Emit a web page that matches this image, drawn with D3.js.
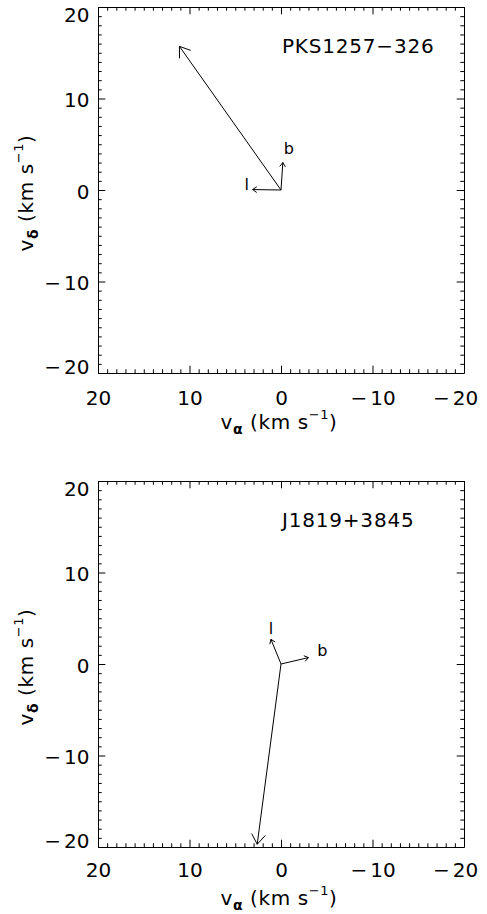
<!DOCTYPE html>
<html>
<head>
<meta charset="utf-8">
<script src="https://cdn.jsdelivr.net/npm/d3@7"></script>
<style>
  html, body { margin: 0; padding: 0; background: #fff; }
  svg { display: block; }
</style>
</head>
<body>
<script>
// ---------------- data ----------------
const panelNames = ["PKS1257\u2212326", "J1819+3845"];
// proper-motion velocity vectors (v_alpha, v_delta) in km/s
const pmVectors = [[11.1, 15.7], [2.6, -19.7]];
// galactic l and b directions (drawn as short vectors)
const lVectors = [[3.1, 0.05], [1.1, 2.7]];
const bVectors = [[-0.2, 3.0], [-3.0, 0.7]];
const lLabels = ["l", "l"];
const bLabels = ["b", "b"];
const majorTicks = [20, 10, 0, -10, -20];
const axisDomain = [20, -20];

// ---------------- layout ----------------
const W = 487, H = 914;
const left = 98, right = 464;
const panels = [
  { top: 7,   bottom: 373, tickBase: 405, titleBase: 429, yTitleY: 193,
    lOff: [-6, 0], bOff: [6, -9] },
  { top: 481, bottom: 847, tickBase: 877, titleBase: 905, yTitleY: 667,
    lOff: [0, -5], bOff: [14, -2] }
];
const FONT = "DejaVu Sans";
const majorLen = 7.3, minorLen = 3.7;
const minorTicks = d3.range(-20, 21, 1).filter(v => v % 10 !== 0);

const svg = d3.select("body").append("svg")
  .attr("width", W).attr("height", H)
  .style("font-family", FONT);

function fmt(v) { return v < 0 ? "\u2212" + Math.abs(v) : String(v); }

function splitMinus(sel) {
  sel.each(function () {
    const t = d3.select(this);
    const s = t.text();
    if (s.startsWith("\u2212")) {
      t.text(null);
      t.append("tspan").text("\u2212");
      t.append("tspan").attr("dx", 3).text(s.slice(1));
    }
  });
}

function drawArrow(g, x0, y0, x1, y1, head, ang) {
  const a = Math.atan2(y0 - y1, x0 - x1);
  const h1 = [x1 + head * Math.cos(a + ang), y1 + head * Math.sin(a + ang)];
  const h2 = [x1 + head * Math.cos(a - ang), y1 + head * Math.sin(a - ang)];
  const p = d3.path();
  p.moveTo(x0, y0); p.lineTo(x1, y1);
  p.moveTo(h1[0], h1[1]); p.lineTo(x1, y1); p.lineTo(h2[0], h2[1]);
  g.append("path").attr("d", p.toString())
    .attr("fill", "none").attr("stroke", "#000").attr("stroke-width", 1)
    .attr("stroke-linejoin", "miter");
}

panels.forEach((P, i) => {
  const x = d3.scaleLinear().domain(axisDomain).range([left, right]);
  const y = d3.scaleLinear().domain([-20, 20]).range([P.bottom, P.top]);
  const g = svg.append("g");

  // ---- minor ticks
  [["axisBottom", P.bottom, x, 0], ["axisTop", P.top, x, 0],
   ["axisLeft", left, y, 1], ["axisRight", right, y, 1]].forEach(([fn, pos, sc, vert]) => {
    const ax = d3[fn](sc).tickValues(minorTicks).tickFormat("")
      .tickSizeInner(-minorLen).tickSizeOuter(0);
    const gg = g.append("g")
      .attr("transform", vert ? `translate(${pos},0)` : `translate(0,${pos})`)
      .call(ax);
    gg.select(".domain").remove();
  });

  // ---- major ticks + frame
  const xb = g.append("g").attr("transform", `translate(0,${P.bottom})`)
    .call(d3.axisBottom(x).tickValues(majorTicks).tickFormat(fmt)
      .tickSizeInner(-majorLen).tickSizeOuter(0).tickPadding(0));
  g.append("g").attr("transform", `translate(0,${P.top})`)
    .call(d3.axisTop(x).tickValues(majorTicks).tickFormat("")
      .tickSizeInner(-majorLen).tickSizeOuter(0));
  const yl = g.append("g").attr("transform", `translate(${left},0)`)
    .call(d3.axisLeft(y).tickValues(majorTicks).tickFormat(fmt)
      .tickSizeInner(-majorLen).tickSizeOuter(0).tickPadding(8.5));
  g.append("g").attr("transform", `translate(${right},0)`)
    .call(d3.axisRight(y).tickValues(majorTicks).tickFormat("")
      .tickSizeInner(-majorLen).tickSizeOuter(0));

  g.selectAll(".domain").attr("stroke", "#000").attr("stroke-width", 1);
  g.selectAll(".tick line").attr("stroke", "#000").attr("stroke-width", 1);

  // x tick labels
  xb.selectAll("text")
    .attr("font-family", FONT).attr("font-size", 20).attr("fill", "#000")
    .attr("y", P.tickBase - P.bottom).attr("dy", 0)
    .attr("dx", d => (d === -20 ? -9 : 0));
  splitMinus(xb.selectAll("text"));
  xb.attr("font-family", FONT).attr("font-size", 20);

  // y tick labels
  yl.selectAll("text")
    .attr("font-family", FONT).attr("font-size", 20).attr("fill", "#000")
    .attr("dy", "0.36em")
    .attr("y", d => d === 20 ? 7.5 : d === -20 ? -6.5 : 1);
  splitMinus(yl.selectAll("text"));
  yl.attr("font-family", FONT).attr("font-size", 20);

  // ---- axis titles
  const cx = (left + right) / 2;
  const xt = svg.append("text")
    .attr("x", cx - 2).attr("y", P.titleBase)
    .attr("text-anchor", "middle").attr("font-size", 20).attr("fill", "#000")
    .attr("letter-spacing", 0.6);
  xt.append("tspan").text("v");
  xt.append("tspan").attr("font-size", 14).attr("font-weight", "bold").attr("dy", 5).text("\u03B1");
  xt.append("tspan").attr("dy", -5).text(" (km s");
  xt.append("tspan").attr("font-size", 13).attr("dy", -10).text("\u22121");
  xt.append("tspan").attr("dy", 10).text(")");

  const yt = svg.append("text")
    .attr("transform", `translate(33,${P.yTitleY}) rotate(-90)`)
    .attr("text-anchor", "middle").attr("font-size", 20).attr("fill", "#000")
    .attr("letter-spacing", 0.6);
  yt.append("tspan").text("v");
  yt.append("tspan").attr("font-size", 14).attr("font-weight", "bold").attr("dy", 5).text("\u03B4");
  yt.append("tspan").attr("dy", -5).text(" (km s");
  yt.append("tspan").attr("font-size", 13).attr("dy", -10).text("\u22121");
  yt.append("tspan").attr("dy", 10).text(")");

  // ---- panel name
  svg.append("text")
    .attr("x", 282).attr("y", P.top + 46)
    .attr("font-size", 20).attr("fill", "#000").attr("letter-spacing", 0.8)
    .text(panelNames[i]);

  // ---- arrows
  const ox = x(0), oy = y(0);
  const pm = pmVectors[i], lv = lVectors[i], bv = bVectors[i];
  drawArrow(g, ox, oy, x(pm[0]), y(pm[1]), 12, Math.PI / 180 * 35);
  drawArrow(g, ox, oy, x(lv[0]), y(lv[1]), 5, Math.PI / 180 * 35);
  drawArrow(g, ox, oy, x(bv[0]), y(bv[1]), 5, Math.PI / 180 * 35);

  svg.append("text")
    .attr("x", x(lv[0]) + P.lOff[0]).attr("y", y(lv[1]) + P.lOff[1])
    .attr("text-anchor", "middle").attr("font-size", 16).attr("fill", "#000")
    .text(lLabels[i]);
  svg.append("text")
    .attr("x", x(bv[0]) + P.bOff[0]).attr("y", y(bv[1]) + P.bOff[1])
    .attr("text-anchor", "middle").attr("font-size", 16).attr("fill", "#000")
    .text(bLabels[i]);
});
</script>
</body>
</html>
